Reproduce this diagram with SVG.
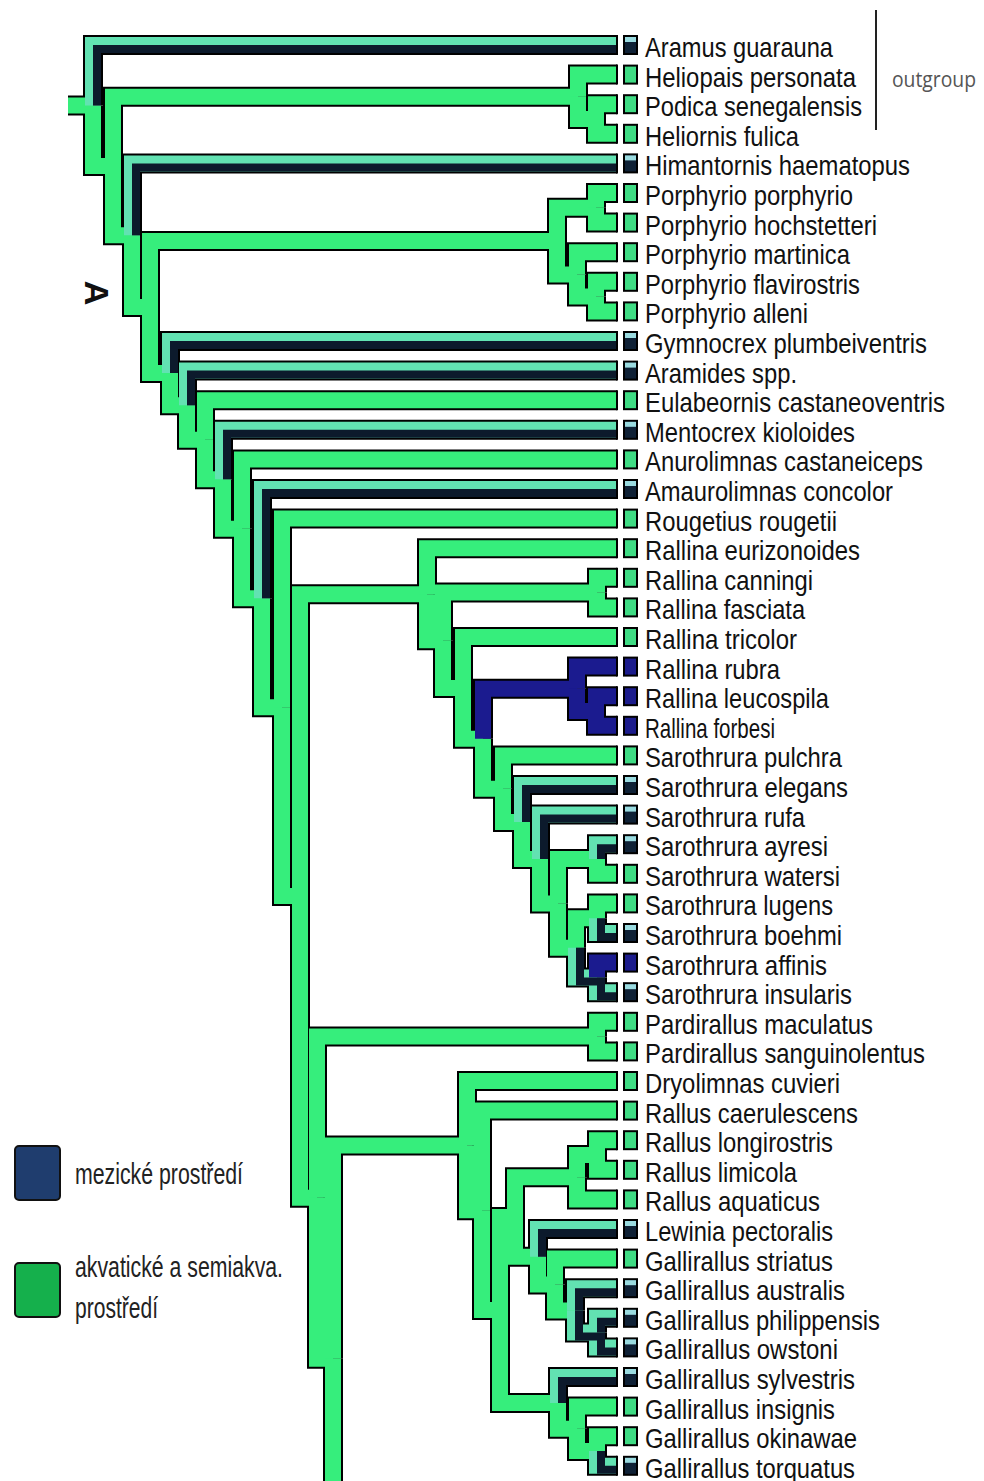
<svg xmlns="http://www.w3.org/2000/svg" width="984" height="1481" viewBox="0 0 984 1481">
<style>
.o{fill:none;stroke:#000;stroke-width:20;stroke-linejoin:miter}
.g{fill:none;stroke:#36ee7c;stroke-width:16;stroke-linejoin:miter}
.m{fill:none;stroke:#62e2b2;stroke-width:16;stroke-linejoin:miter}
.b{fill:none;stroke:#1b1b8f;stroke-width:16;stroke-linejoin:miter}
.dk{fill:none;stroke:#0c1a2c;stroke-width:8;stroke-linejoin:miter}
.cap{fill:none;stroke:#000;stroke-width:2}
.lb{font-family:"Liberation Sans",Arial,sans-serif;font-size:27.5px;fill:#111}
.bx{stroke:#000;stroke-width:2}
.bg{fill:#3fdc84}
.bd{fill:#0f2136}
.bb{fill:#1c1c8c}
.hi{fill:#9adbe0}
.lg{font-family:"Liberation Sans",Arial,sans-serif;font-size:29px;fill:#222}
</style>
<defs>
<g id="tg">
<path d="M68,105.5H93"/>
<path d="M93,105.5V166H113"/>
<path d="M113,166V96.8H578"/>
<path d="M113,166V235.3H132"/>
<path d="M578,96.8V74.6H617"/>
<path d="M578,96.8V119H596"/>
<path d="M596,119V104.2H617"/>
<path d="M596,119V133.8H617"/>
<path d="M132,235.3V307.1H150"/>
<path d="M150,307.1V241.1H557"/>
<path d="M150,307.1V373.1H170"/>
<path d="M557,241.1V207.8H596"/>
<path d="M557,241.1V274.4H577"/>
<path d="M596,207.8V193H617"/>
<path d="M596,207.8V222.6H617"/>
<path d="M577,274.4V252.2H617"/>
<path d="M577,274.4V296.6H596"/>
<path d="M596,296.6V281.8H617"/>
<path d="M596,296.6V311.4H617"/>
<path d="M170,373.1V405.2H187"/>
<path d="M187,405.2V439.8H205"/>
<path d="M205,439.8V400.2H617"/>
<path d="M205,439.8V479.3H223"/>
<path d="M223,479.3V528.8H242"/>
<path d="M242,528.8V459.4H617"/>
<path d="M242,528.8V598.2H262"/>
<path d="M262,598.2V707.3H282"/>
<path d="M282,707.3V518.6H617"/>
<path d="M282,707.3V896H300"/>
<path d="M300,896V594.2H427"/>
<path d="M300,896V1197.7H317"/>
<path d="M427,594.2V548.2H617"/>
<path d="M427,594.2V640.3H443"/>
<path d="M443,640.3V592.6H597"/>
<path d="M443,640.3V687.9H463"/>
<path d="M597,592.6V577.8H617"/>
<path d="M597,592.6V607.4H617"/>
<path d="M463,687.9V637H617"/>
<path d="M463,687.9V738.8H483"/>
<path d="M483,738.8V788.7H503"/>
<path d="M503,788.7V755.4H617"/>
<path d="M503,788.7V822H522"/>
<path d="M522,822V859H540"/>
<path d="M540,859V903.4H558"/>
<path d="M558,903.4V859H597"/>
<path d="M558,903.4V947.8H576"/>
<path d="M597,859V873.8H617"/>
<path d="M576,947.8V918.2H597"/>
<path d="M597,918.2V903.4H617"/>
<path d="M317,1197.7V1036.6H597"/>
<path d="M317,1197.7V1358.8H333"/>
<path d="M597,1036.6V1021.8H617"/>
<path d="M597,1036.6V1051.4H617"/>
<path d="M333,1358.8V1145.6H467"/>
<path d="M333,1358.8V1495"/>
<path d="M467,1145.6V1081H617"/>
<path d="M467,1145.6V1210.3H482"/>
<path d="M482,1210.3V1110.6H617"/>
<path d="M482,1210.3V1310H500"/>
<path d="M500,1310V1217H515"/>
<path d="M500,1310V1402.9H558"/>
<path d="M515,1217V1177.2H577"/>
<path d="M515,1217V1256.8H538"/>
<path d="M577,1177.2V1155H597"/>
<path d="M577,1177.2V1199.4H617"/>
<path d="M597,1155V1140.2H617"/>
<path d="M597,1155V1169.8H617"/>
<path d="M538,1256.8V1284.5H555"/>
<path d="M555,1284.5V1258.6H617"/>
<path d="M555,1284.5V1310.4H575"/>
<path d="M558,1402.9V1428.8H577"/>
<path d="M577,1428.8V1406.6H617"/>
<path d="M577,1428.8V1451H597"/>
<path d="M597,1451V1436.2H617"/>
</g>
<g id="tm">
<path d="M93,105.5V45H617"/>
<path d="M132,235.3V163.4H617"/>
<path d="M170,373.1V341H617"/>
<path d="M187,405.2V370.6H617"/>
<path d="M223,479.3V429.8H617"/>
<path d="M262,598.2V489H617"/>
<path d="M522,822V785H617"/>
<path d="M540,859V814.6H617"/>
<path d="M597,859V844.2H617"/>
<path d="M576,947.8V977.4H597"/>
<path d="M597,918.2V933H617"/>
<path d="M597,977.4V992.2H617"/>
<path d="M538,1256.8V1229H617"/>
<path d="M575,1310.4V1288.2H617"/>
<path d="M575,1310.4V1332.6H597"/>
<path d="M597,1332.6V1317.8H617"/>
<path d="M597,1332.6V1347.4H617"/>
<path d="M558,1402.9V1377H617"/>
<path d="M597,1451V1465.8H617"/>
</g>
<g id="tb">
<path d="M483,738.8V688.8H577"/>
<path d="M577,688.8V666.6H617"/>
<path d="M577,688.8V711H596"/>
<path d="M596,711V696.2H617"/>
<path d="M596,711V725.8H617"/>
<path d="M597,977.4V962.6H617"/>
</g>
</defs>
<g id="connectors">
<use href="#tg" class="o"/>
<use href="#tm" class="o"/>
<use href="#tb" class="o"/>
<use href="#tg" class="g"/>
<use href="#tm" class="m"/>
<use href="#tb" class="b"/>
<g class="dk">
<path d="M97,105.5V49H617"/>
<path d="M136,235.3V167.4H617"/>
<path d="M174,373.1V345H617"/>
<path d="M191,405.2V374.6H617"/>
<path d="M227,479.3V433.8H617"/>
<path d="M266,598.2V493H617"/>
<path d="M526,822V789H617"/>
<path d="M544,859V818.6H617"/>
<path d="M601,859V848.2H617"/>
<path d="M580,947.8V981.4H597"/>
<path d="M601,918.2V937H617"/>
<path d="M601,977.4V996.2H617"/>
<path d="M542,1256.8V1233H617"/>
<path d="M579,1310.4V1292.2H617"/>
<path d="M579,1310.4V1336.6H597"/>
<path d="M601,1332.6V1321.8H617"/>
<path d="M601,1332.6V1351.4H617"/>
<path d="M562,1402.9V1381H617"/>
<path d="M601,1451V1469.8H617"/>
</g>
<path class="cap" d="M617,35V55M617,64.6V84.6M617,94.2V114.2M617,123.8V143.8M617,153.4V173.4M617,183V203M617,212.6V232.6M617,242.2V262.2M617,271.8V291.8M617,301.4V321.4M617,331V351M617,360.6V380.6M617,390.2V410.2M617,419.8V439.8M617,449.4V469.4M617,479V499M617,508.6V528.6M617,538.2V558.2M617,567.8V587.8M617,597.4V617.4M617,627V647M617,656.6V676.6M617,686.2V706.2M617,715.8V735.8M617,745.4V765.4M617,775V795M617,804.6V824.6M617,834.2V854.2M617,863.8V883.8M617,893.4V913.4M617,923V943M617,952.6V972.6M617,982.2V1002.2M617,1011.8V1031.8M617,1041.4V1061.4M617,1071V1091M617,1100.6V1120.6M617,1130.2V1150.2M617,1159.8V1179.8M617,1189.4V1209.4M617,1219V1239M617,1248.6V1268.6M617,1278.2V1298.2M617,1307.8V1327.8M617,1337.4V1357.4M617,1367V1387M617,1396.6V1416.6M617,1426.2V1446.2M617,1455.8V1475.8"/>
</g>
<g id="n00"><rect class="bx bd" x="624" y="36" width="13" height="18"/><rect class="hi" x="625" y="37" width="11" height="5"/><text class="lb" x="645" y="57" textLength="188" lengthAdjust="spacingAndGlyphs">Aramus guarauna</text></g>
<g id="n01"><rect class="bx bg" x="624" y="65.6" width="13" height="18"/><text class="lb" x="645" y="86.6" textLength="211" lengthAdjust="spacingAndGlyphs">Heliopais personata</text></g>
<g id="n02"><rect class="bx bg" x="624" y="95.2" width="13" height="18"/><text class="lb" x="645" y="116.2" textLength="217" lengthAdjust="spacingAndGlyphs">Podica senegalensis</text></g>
<g id="n03"><rect class="bx bg" x="624" y="124.8" width="13" height="18"/><text class="lb" x="645" y="145.8" textLength="154" lengthAdjust="spacingAndGlyphs">Heliornis fulica</text></g>
<g id="n04"><rect class="bx bd" x="624" y="154.4" width="13" height="18"/><rect class="hi" x="625" y="155.4" width="11" height="5"/><text class="lb" x="645" y="175.4" textLength="265" lengthAdjust="spacingAndGlyphs">Himantornis haematopus</text></g>
<g id="n05"><rect class="bx bg" x="624" y="184" width="13" height="18"/><text class="lb" x="645" y="205" textLength="208" lengthAdjust="spacingAndGlyphs">Porphyrio porphyrio</text></g>
<g id="n06"><rect class="bx bg" x="624" y="213.6" width="13" height="18"/><text class="lb" x="645" y="234.6" textLength="232" lengthAdjust="spacingAndGlyphs">Porphyrio hochstetteri</text></g>
<g id="n07"><rect class="bx bg" x="624" y="243.2" width="13" height="18"/><text class="lb" x="645" y="264.2" textLength="205" lengthAdjust="spacingAndGlyphs">Porphyrio martinica</text></g>
<g id="n08"><rect class="bx bg" x="624" y="272.8" width="13" height="18"/><text class="lb" x="645" y="293.8" textLength="215" lengthAdjust="spacingAndGlyphs">Porphyrio flavirostris</text></g>
<g id="n09"><rect class="bx bg" x="624" y="302.4" width="13" height="18"/><text class="lb" x="645" y="323.4" textLength="163" lengthAdjust="spacingAndGlyphs">Porphyrio alleni</text></g>
<g id="n10"><rect class="bx bd" x="624" y="332" width="13" height="18"/><rect class="hi" x="625" y="333" width="11" height="5"/><text class="lb" x="645" y="353" textLength="282" lengthAdjust="spacingAndGlyphs">Gymnocrex plumbeiventris</text></g>
<g id="n11"><rect class="bx bd" x="624" y="361.6" width="13" height="18"/><rect class="hi" x="625" y="362.6" width="11" height="5"/><text class="lb" x="645" y="382.6" textLength="152" lengthAdjust="spacingAndGlyphs">Aramides spp.</text></g>
<g id="n12"><rect class="bx bg" x="624" y="391.2" width="13" height="18"/><text class="lb" x="645" y="412.2" textLength="300" lengthAdjust="spacingAndGlyphs">Eulabeornis castaneoventris</text></g>
<g id="n13"><rect class="bx bd" x="624" y="420.8" width="13" height="18"/><rect class="hi" x="625" y="421.8" width="11" height="5"/><text class="lb" x="645" y="441.8" textLength="210" lengthAdjust="spacingAndGlyphs">Mentocrex kioloides</text></g>
<g id="n14"><rect class="bx bg" x="624" y="450.4" width="13" height="18"/><text class="lb" x="645" y="471.4" textLength="278" lengthAdjust="spacingAndGlyphs">Anurolimnas castaneiceps</text></g>
<g id="n15"><rect class="bx bd" x="624" y="480" width="13" height="18"/><rect class="hi" x="625" y="481" width="11" height="5"/><text class="lb" x="645" y="501" textLength="248" lengthAdjust="spacingAndGlyphs">Amaurolimnas concolor</text></g>
<g id="n16"><rect class="bx bg" x="624" y="509.6" width="13" height="18"/><text class="lb" x="645" y="530.6" textLength="192" lengthAdjust="spacingAndGlyphs">Rougetius rougetii</text></g>
<g id="n17"><rect class="bx bg" x="624" y="539.2" width="13" height="18"/><text class="lb" x="645" y="560.2" textLength="215" lengthAdjust="spacingAndGlyphs">Rallina eurizonoides</text></g>
<g id="n18"><rect class="bx bg" x="624" y="568.8" width="13" height="18"/><text class="lb" x="645" y="589.8" textLength="168" lengthAdjust="spacingAndGlyphs">Rallina canningi</text></g>
<g id="n19"><rect class="bx bg" x="624" y="598.4" width="13" height="18"/><text class="lb" x="645" y="619.4" textLength="160" lengthAdjust="spacingAndGlyphs">Rallina fasciata</text></g>
<g id="n20"><rect class="bx bg" x="624" y="628" width="13" height="18"/><text class="lb" x="645" y="649" textLength="152" lengthAdjust="spacingAndGlyphs">Rallina tricolor</text></g>
<g id="n21"><rect class="bx bb" x="624" y="657.6" width="13" height="18"/><text class="lb" x="645" y="678.6" textLength="135" lengthAdjust="spacingAndGlyphs">Rallina rubra</text></g>
<g id="n22"><rect class="bx bb" x="624" y="687.2" width="13" height="18"/><text class="lb" x="645" y="708.2" textLength="184" lengthAdjust="spacingAndGlyphs">Rallina leucospila</text></g>
<g id="n23"><rect class="bx bb" x="624" y="716.8" width="13" height="18"/><text class="lb" x="645" y="737.8" textLength="130" lengthAdjust="spacingAndGlyphs">Rallina forbesi</text></g>
<g id="n24"><rect class="bx bg" x="624" y="746.4" width="13" height="18"/><text class="lb" x="645" y="767.4" textLength="197" lengthAdjust="spacingAndGlyphs">Sarothrura pulchra</text></g>
<g id="n25"><rect class="bx bd" x="624" y="776" width="13" height="18"/><rect class="hi" x="625" y="777" width="11" height="5"/><text class="lb" x="645" y="797" textLength="203" lengthAdjust="spacingAndGlyphs">Sarothrura elegans</text></g>
<g id="n26"><rect class="bx bd" x="624" y="805.6" width="13" height="18"/><rect class="hi" x="625" y="806.6" width="11" height="5"/><text class="lb" x="645" y="826.6" textLength="160" lengthAdjust="spacingAndGlyphs">Sarothrura rufa</text></g>
<g id="n27"><rect class="bx bd" x="624" y="835.2" width="13" height="18"/><rect class="hi" x="625" y="836.2" width="11" height="5"/><text class="lb" x="645" y="856.2" textLength="183" lengthAdjust="spacingAndGlyphs">Sarothrura ayresi</text></g>
<g id="n28"><rect class="bx bg" x="624" y="864.8" width="13" height="18"/><text class="lb" x="645" y="885.8" textLength="195" lengthAdjust="spacingAndGlyphs">Sarothrura watersi</text></g>
<g id="n29"><rect class="bx bg" x="624" y="894.4" width="13" height="18"/><text class="lb" x="645" y="915.4" textLength="188" lengthAdjust="spacingAndGlyphs">Sarothrura lugens</text></g>
<g id="n30"><rect class="bx bd" x="624" y="924" width="13" height="18"/><rect class="hi" x="625" y="925" width="11" height="5"/><text class="lb" x="645" y="945" textLength="197" lengthAdjust="spacingAndGlyphs">Sarothrura boehmi</text></g>
<g id="n31"><rect class="bx bb" x="624" y="953.6" width="13" height="18"/><text class="lb" x="645" y="974.6" textLength="182" lengthAdjust="spacingAndGlyphs">Sarothrura affinis</text></g>
<g id="n32"><rect class="bx bd" x="624" y="983.2" width="13" height="18"/><rect class="hi" x="625" y="984.2" width="11" height="5"/><text class="lb" x="645" y="1004.2" textLength="207" lengthAdjust="spacingAndGlyphs">Sarothrura insularis</text></g>
<g id="n33"><rect class="bx bg" x="624" y="1012.8" width="13" height="18"/><text class="lb" x="645" y="1033.8" textLength="228" lengthAdjust="spacingAndGlyphs">Pardirallus maculatus</text></g>
<g id="n34"><rect class="bx bg" x="624" y="1042.4" width="13" height="18"/><text class="lb" x="645" y="1063.4" textLength="280" lengthAdjust="spacingAndGlyphs">Pardirallus sanguinolentus</text></g>
<g id="n35"><rect class="bx bg" x="624" y="1072" width="13" height="18"/><text class="lb" x="645" y="1093" textLength="195" lengthAdjust="spacingAndGlyphs">Dryolimnas cuvieri</text></g>
<g id="n36"><rect class="bx bg" x="624" y="1101.6" width="13" height="18"/><text class="lb" x="645" y="1122.6" textLength="213" lengthAdjust="spacingAndGlyphs">Rallus caerulescens</text></g>
<g id="n37"><rect class="bx bg" x="624" y="1131.2" width="13" height="18"/><text class="lb" x="645" y="1152.2" textLength="188" lengthAdjust="spacingAndGlyphs">Rallus longirostris</text></g>
<g id="n38"><rect class="bx bg" x="624" y="1160.8" width="13" height="18"/><text class="lb" x="645" y="1181.8" textLength="152" lengthAdjust="spacingAndGlyphs">Rallus limicola</text></g>
<g id="n39"><rect class="bx bg" x="624" y="1190.4" width="13" height="18"/><text class="lb" x="645" y="1211.4" textLength="175" lengthAdjust="spacingAndGlyphs">Rallus aquaticus</text></g>
<g id="n40"><rect class="bx bd" x="624" y="1220" width="13" height="18"/><rect class="hi" x="625" y="1221" width="11" height="5"/><text class="lb" x="645" y="1241" textLength="188" lengthAdjust="spacingAndGlyphs">Lewinia pectoralis</text></g>
<g id="n41"><rect class="bx bg" x="624" y="1249.6" width="13" height="18"/><text class="lb" x="645" y="1270.6" textLength="188" lengthAdjust="spacingAndGlyphs">Gallirallus striatus</text></g>
<g id="n42"><rect class="bx bd" x="624" y="1279.2" width="13" height="18"/><rect class="hi" x="625" y="1280.2" width="11" height="5"/><text class="lb" x="645" y="1300.2" textLength="200" lengthAdjust="spacingAndGlyphs">Gallirallus australis</text></g>
<g id="n43"><rect class="bx bd" x="624" y="1308.8" width="13" height="18"/><rect class="hi" x="625" y="1309.8" width="11" height="5"/><text class="lb" x="645" y="1329.8" textLength="235" lengthAdjust="spacingAndGlyphs">Gallirallus philippensis</text></g>
<g id="n44"><rect class="bx bd" x="624" y="1338.4" width="13" height="18"/><rect class="hi" x="625" y="1339.4" width="11" height="5"/><text class="lb" x="645" y="1359.4" textLength="193" lengthAdjust="spacingAndGlyphs">Gallirallus owstoni</text></g>
<g id="n45"><rect class="bx bd" x="624" y="1368" width="13" height="18"/><rect class="hi" x="625" y="1369" width="11" height="5"/><text class="lb" x="645" y="1389" textLength="210" lengthAdjust="spacingAndGlyphs">Gallirallus sylvestris</text></g>
<g id="n46"><rect class="bx bg" x="624" y="1397.6" width="13" height="18"/><text class="lb" x="645" y="1418.6" textLength="190" lengthAdjust="spacingAndGlyphs">Gallirallus insignis</text></g>
<g id="n47"><rect class="bx bg" x="624" y="1427.2" width="13" height="18"/><text class="lb" x="645" y="1448.2" textLength="212" lengthAdjust="spacingAndGlyphs">Gallirallus okinawae</text></g>
<g id="n48"><rect class="bx bd" x="624" y="1456.8" width="13" height="18"/><rect class="hi" x="625" y="1457.8" width="11" height="5"/><text class="lb" x="645" y="1477.8" textLength="210" lengthAdjust="spacingAndGlyphs">Gallirallus torquatus</text></g>
<g id="outgroup">
<line x1="876" y1="10" x2="876" y2="130" stroke="#222" stroke-width="2"/>
<text x="892" y="87" font-family="'Open Sans','Liberation Sans',sans-serif" font-size="22" fill="#555" textLength="84" lengthAdjust="spacingAndGlyphs">outgroup</text>
</g>
<g id="label-A">
<text transform="translate(85,293) rotate(90)" text-anchor="middle" font-family="'Liberation Sans',Arial,sans-serif" font-weight="bold" font-size="34" fill="#111">A</text>
</g>
<g id="legend">
<rect x="15" y="1146" width="45" height="54" rx="4" fill="#1f3d6e" stroke="#111" stroke-width="2"/>
<text class="lg" x="75" y="1184" textLength="168" lengthAdjust="spacingAndGlyphs">mezické prostředí</text>
<rect x="15" y="1263" width="45" height="54" rx="4" fill="#15b04c" stroke="#111" stroke-width="2"/>
<text class="lg" x="75" y="1277" textLength="208" lengthAdjust="spacingAndGlyphs">akvatické a semiakva.</text>
<text class="lg" x="75" y="1318" textLength="83" lengthAdjust="spacingAndGlyphs">prostředí</text>
</g>
</svg>
